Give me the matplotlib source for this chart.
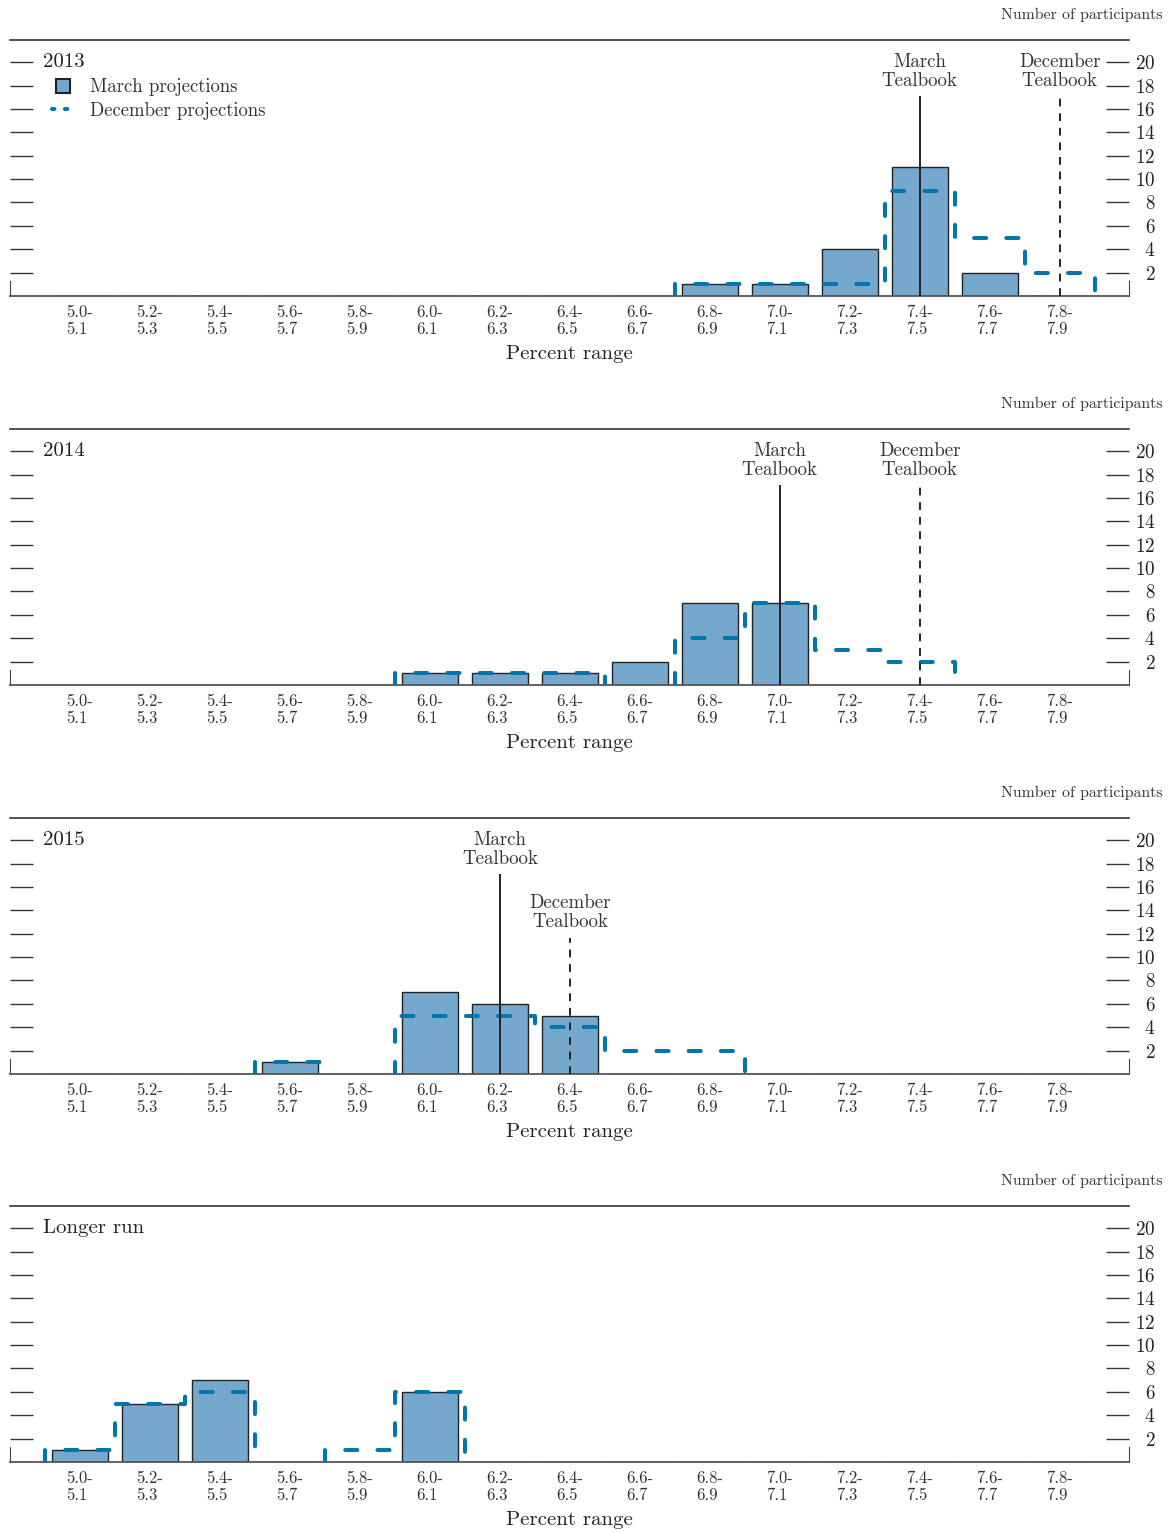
import numpy as np
import matplotlib.pyplot as plt
from matplotlib.lines import Line2D

plt.rcParams['font.family'] = ['cmr10', 'DejaVu Serif']
plt.rcParams['axes.formatter.use_mathtext'] = True

# ============================================================
# DATA
# ============================================================

bins = ["5.0-\n5.1", "5.2-\n5.3", "5.4-\n5.5", "5.6-\n5.7", "5.8-\n5.9",
        "6.0-\n6.1", "6.2-\n6.3", "6.4-\n6.5", "6.6-\n6.7", "6.8-\n6.9",
        "7.0-\n7.1", "7.2-\n7.3", "7.4-\n7.5", "7.6-\n7.7", "7.8-\n7.9"]

titles = ["2013", "2014", "2015", "Longer run"]

march_2013 = [0, 0, 0, 0, 0, 0, 0, 0, 0, 1, 1, 4, 11, 2, 0]
dec_2013   = [0, 0, 0, 0, 0, 0, 0, 0, 0, 1, 1, 1, 9, 5, 2]
march_2014 = [0, 0, 0, 0, 0, 1, 1, 1, 2, 7, 7, 0, 0, 0, 0]
dec_2014   = [0, 0, 0, 0, 0, 1, 1, 1, 0, 4, 7, 3, 2, 0, 0]
march_2015 = [0, 0, 0, 1, 0, 7, 6, 5, 0, 0, 0, 0, 0, 0, 0]
dec_2015   = [0, 0, 0, 1, 0, 5, 5, 4, 2, 2, 0, 0, 0, 0, 0]
march_lr   = [1, 5, 7, 0, 0, 6, 0, 0, 0, 0, 0, 0, 0, 0, 0]
dec_lr     = [1, 5, 6, 0, 1, 6, 0, 0, 0, 0, 0, 0, 0, 0, 0]

march_all = [march_2013, march_2014, march_2015, march_lr]
dec_all = [dec_2013, dec_2014, dec_2015, dec_lr]

# Tealbook markers: (bin index, line height), None if absent
march_tb = [(12, 17), (10, 17), (6, 17), None]
dec_tb   = [(14, 17), (12, 17), (7, 11.6), None]

bar_color = "#76a8ce"
dec_color = "#0077aa"

# ============================================================
# PLOT
# ============================================================

fig = plt.figure(figsize=(11.68, 15.32), dpi=100)

W, H = 1168.0, 1532.0
ax_left, ax_right = 10, 1129
panel_bottoms = [296, 685, 1074, 1462]
panel_h = 256

x = np.arange(len(bins))

for k in range(4):
    b = panel_bottoms[k]
    ax = fig.add_axes([ax_left / W, (H - b) / H, (ax_right - ax_left) / W, panel_h / H])

    ax.bar(x, march_all[k], width=0.8, color=bar_color, edgecolor="#222222",
           linewidth=1.0, zorder=2)

    # December step outline, drawn only over runs of non-zero bins
    d = dec_all[k]
    i = 0
    while i < len(d):
        if d[i] == 0:
            i += 1
            continue
        j = i
        while j < len(d) and d[j] > 0:
            j += 1
        xs = [i - 0.5]
        ys = [0]
        for m in range(i, j):
            xs += [m - 0.5, m + 0.5]
            ys += [d[m], d[m]]
        xs.append(j - 0.5)
        ys.append(0)
        ax.plot(xs, ys, color=dec_color, lw=2.9, dashes=(3.0, 5.0),
                dash_capstyle="round", solid_joinstyle="miter", zorder=3)
        i = j

    if march_tb[k] is not None:
        xi, h = march_tb[k]
        ax.plot([xi, xi], [0, h], color="#222222", lw=1.4, zorder=4)
        ax.text(xi, h + 0.6, "March\nTealbook", ha="center", va="bottom",
                fontsize=13.6, color="#333333", linespacing=1.08)
    if dec_tb[k] is not None:
        xi, h = dec_tb[k]
        ax.plot([xi, xi], [0, h], color="#222222", lw=1.4, dashes=(4, 3.5), zorder=4)
        ax.text(xi, h + 0.6, "December\nTealbook", ha="center", va="bottom",
                fontsize=13.6, color="#333333", linespacing=1.08)

    ax.set_xlim(-1.0, 14.99)
    ax.set_ylim(0, 21.9)

    ax.set_xticks(x)
    ax.set_xticklabels(bins, fontsize=12, color="#333333", linespacing=1.15,
                       multialignment="left")
    ax.tick_params(axis="x", length=0, pad=6)
    ax.set_xlabel("Percent range", fontsize=15, color="#222222", labelpad=6)

    ax.set_yticks(np.arange(2, 21, 2))
    ax.tick_params(axis="y", which="both", direction="in", length=16.5, width=1.0,
                   color="#333333", left=True, right=True,
                   labelleft=False, labelright=True, pad=19, labelsize=13.8,
                   labelcolor="#222222")
    for lab in ax.get_yticklabels():
        lab.set_horizontalalignment("right")

    for s in ["left", "right"]:
        ax.spines[s].set_bounds(0, 1.3)
        ax.spines[s].set_color("#444444")
    ax.spines["bottom"].set_color("#555555")
    ax.spines["bottom"].set_linewidth(1.3)
    ax.spines["top"].set_color("#333333")
    ax.spines["top"].set_linewidth(1.2)

    ax.text(0.0295, 20, titles[k], transform=ax.get_yaxis_transform(),
            ha="left", va="center", fontsize=15, color="#222222")
    ax.text(1.0295, 1.098, "Number of participants", transform=ax.transAxes,
            ha="right", va="center", fontsize=11.4, color="#333333")

    if k == 0:
        handles = [
            Line2D([], [], marker="s", markersize=10, markerfacecolor=bar_color,
                   markeredgecolor="#222222", markeredgewidth=1.5, linestyle="none"),
            Line2D([], [], color=dec_color, lw=2.9, dashes=(0.6, 2.6),
                   dash_capstyle="round"),
        ]
        ax.legend(handles, ["March projections", "December projections"],
                  loc="upper left", bbox_to_anchor=(0.0376, 0.85),
                  frameon=False, fontsize=13.5, handlelength=1.2,
                  handletextpad=0.8, labelspacing=0.3, borderpad=0,
                  borderaxespad=0, labelcolor="#333333")

fig.savefig("out.png", dpi=100)
